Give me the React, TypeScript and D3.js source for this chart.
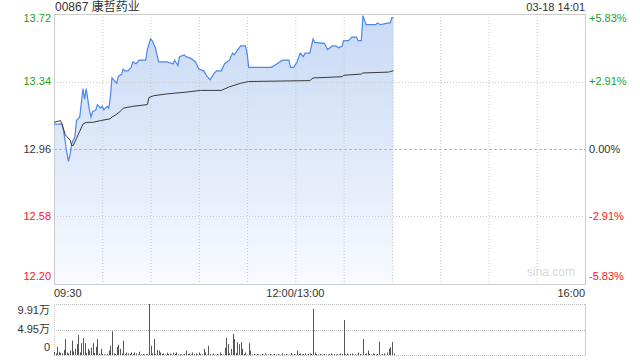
import React from "react";
import * as d3 from "d3";

// ---- Data ----
const title = "00867 康哲药业";
const stamp = "03-18 14:01";
const prevClose = 12.96;
const priceTicks = [13.72, 13.34, 12.96, 12.58, 12.2];
const pctTicks = ["+5.83%", "+2.91%", "0.00%", "-2.91%", "-5.83%"];
const timeLabels = ["09:30", "12:00/13:00", "16:00"];
const volTickLabels = ["9.91万", "4.95万", "0"];
const volTicks = [99100, 49500, 0];

// minutes since 09:30 (trading minutes, lunch removed)
const priceMinutes = [0, 5, 6, 8, 9, 10, 11, 13, 14, 16, 18, 19, 20, 22, 23, 24, 26, 27, 29, 30, 31, 33, 34, 35, 36, 39, 40, 42, 43, 44, 46, 48, 49, 51, 53, 57, 58, 60, 61, 63, 64, 65, 70, 74, 75, 77, 78, 81, 82, 85, 88, 90, 93, 95, 97, 99, 101, 104, 106, 109, 111, 112, 116, 119, 120, 121, 125, 135, 137, 142, 146, 147, 149, 151, 153, 155, 156, 159, 161, 162, 168, 170, 173, 175, 177, 179, 180, 183, 185, 188, 189, 191, 192, 194, 200, 201, 203, 208, 209, 210, 211];
const priceValues = [13.1, 13.1, 13.06, 12.94, 12.89, 12.93, 12.99, 13.03, 13.12, 13.14, 13.3, 13.24, 13.3, 13.18, 13.14, 13.17, 13.18, 13.21, 13.19, 13.2, 13.18, 13.2, 13.19, 13.25, 13.36, 13.33, 13.37, 13.38, 13.41, 13.4, 13.4, 13.42, 13.45, 13.44, 13.46, 13.46, 13.52, 13.58, 13.57, 13.53, 13.49, 13.45, 13.45, 13.44, 13.46, 13.43, 13.48, 13.49, 13.48, 13.47, 13.45, 13.41, 13.4, 13.37, 13.35, 13.38, 13.4, 13.4, 13.44, 13.46, 13.5, 13.49, 13.54, 13.54, 13.5, 13.42, 13.42, 13.42, 13.43, 13.46, 13.46, 13.42, 13.42, 13.45, 13.5, 13.48, 13.5, 13.5, 13.58, 13.56, 13.555, 13.52, 13.54, 13.54, 13.53, 13.54, 13.57, 13.57, 13.59, 13.59, 13.57, 13.57, 13.71, 13.66, 13.66, 13.67, 13.66, 13.67, 13.67, 13.7, 13.7];

const avgMinutes = [0, 4, 5, 7, 10, 11, 12, 14, 16, 18, 20, 24, 29, 35, 36, 38, 41, 43, 49, 58, 59, 62, 70, 82, 91, 104, 109, 116, 121, 159, 161, 179, 180, 191, 192, 208, 211];
const avgValues = [13.11, 13.12, 13.1, 13.04, 13.01, 12.98, 12.98, 13.02, 13.06, 13.1, 13.11, 13.11, 13.12, 13.13, 13.14, 13.15, 13.17, 13.19, 13.2, 13.21, 13.25, 13.26, 13.27, 13.28, 13.29, 13.29, 13.31, 13.33, 13.34, 13.345, 13.36, 13.367, 13.375, 13.382, 13.388, 13.393, 13.401];

// per-minute volume (thousand shares), minute 0 .. 211
const volumesK = [
  6, 3, 16, 6.5, 4, 3, 10, 31, 5, 3,
  8.5, 28, 7, 12, 21, 39, 5, 23, 33, 23,
  4, 12, 8.5, 14, 23, 4, 16, 31, 3, 12,
  2, 1, 1, 2, 8.5, 18, 46, 3, 2, 16,
  20, 12, 3, 28, 2, 5, 3, 2, 5, 2,
  5, 3, 1, 6.5, 1, 2, 1, 1, 2, 99.1,
  18, 3, 31, 2, 10, 8.5, 5, 2, 3, 1,
  4.5, 2, 3, 1, 4.5, 2, 5, 1, 2, 1,
  1, 2, 8.5, 2, 3, 1, 5, 2, 3, 1,
  5, 2, 1, 12, 5, 1, 18, 2, 1, 3,
  1, 2, 1, 5, 2, 1, 14, 33, 21, 3,
  12, 41, 31, 4, 25, 21, 25, 12, 2, 5,
  1, 23, 8.5, 1, 2, 1, 2, 1, 1, 2,
  1, 3, 1, 1, 2, 1, 1, 2, 1, 2,
  1, 1, 3, 1, 2, 1, 1, 4, 1, 2,
  1, 8.5, 2, 3, 1, 2, 3, 1, 2, 3,
  2, 90, 5, 2, 1, 2, 1, 1, 2, 1,
  1, 2, 3, 1, 2, 1, 2, 1, 3, 2,
  68, 2, 3, 1, 2, 3, 1, 2, 1, 5,
  2, 1, 31, 2, 3, 8.5, 2, 1, 3, 2,
  1, 2, 26, 1, 2, 3, 1, 5, 12, 15,
  25, 3,
];

const GREEN = "#1f9f1f";
const RED = "#ee2222";
const DARK = "#333333";
const FONT = "'Liberation Sans', Arial, 'Noto Sans CJK SC', sans-serif";

export default function App() {
  const W = 640;
  const H = 360;
  const left = 54;
  const right = 585;
  const top = 14;
  const bottom = 284;
  const vTop = 304;
  const vBottom = 355;

  const x = d3.scaleLinear().domain([0, 330]).range([left, right]);
  const y = d3.scaleLinear().domain([12.2, 13.72]).range([bottom, top]);
  const yv = d3.scaleLinear().domain([0, 99100]).range([vBottom, vTop]);

  const pricePts = priceMinutes.map((m, i) => [m, priceValues[i]] as [number, number]);
  const avgPts = avgMinutes.map((m, i) => [m, avgValues[i]] as [number, number]);

  const line = d3
    .line<[number, number]>()
    .x((d) => x(d[0]))
    .y((d) => y(d[1]));
  const area = d3
    .area<[number, number]>()
    .x((d) => x(d[0]))
    .y0(bottom)
    .y1((d) => y(d[1]));

  const gridMinutes = d3.range(30, 330, 30);
  const tickColor = (v: number) => (v > prevClose ? GREEN : v < prevClose ? RED : DARK);
  const tickY = (v: number, i: number) =>
    i === 0 ? y(v) + 5 : i === priceTicks.length - 1 ? y(v) - 7 : y(v) + 1;

  return (
    <svg
      width={W}
      height={H}
      style={{ position: "absolute", left: 0, top: 0, background: "#fff" }}
      fontFamily={FONT}
    >
      <defs>
        <linearGradient id="fillGrad" gradientUnits="userSpaceOnUse" x1="0" y1={top} x2="0" y2={bottom}>
          <stop offset="0" stopColor="#c8daf6" />
          <stop offset="0.5" stopColor="#dfe9fa" />
          <stop offset="1" stopColor="#f8fafe" />
        </linearGradient>
      </defs>

      {/* title */}
      <text x={55} y={11} fontSize={12} fill={DARK}>
        {title}
      </text>
      <text x={right} y={11} fontSize={11} fill={DARK} textAnchor="end">
        {stamp}
      </text>

      {/* area + lines */}
      <path d={area(pricePts) || ""} fill="url(#fillGrad)" />

      {/* grid */}
      {gridMinutes.map((m) => (
        <line key={m} x1={x(m) + 0.5} x2={x(m) + 0.5} y1={top} y2={bottom} stroke="#c8c8c8" strokeDasharray="1,2" />
      ))}
      {priceTicks.slice(1, -1).map((v) => (
        <line
          key={v}
          x1={left}
          x2={right}
          y1={Math.round(y(v)) + 0.5}
          y2={Math.round(y(v)) + 0.5}
          stroke={v === prevClose ? "#b8b8b8" : "#c8c8c8"}
          strokeDasharray={v === prevClose ? "3,2" : "1,2"}
        />
      ))}
      <rect x={left + 0.5} y={top + 0.5} width={right - left} height={bottom - top} fill="none" stroke="#cccccc" />

      <path d={line(pricePts) || ""} fill="none" stroke="#4d87ea" strokeWidth={1.2} />
      <path d={line(avgPts) || ""} fill="none" stroke="#3a3a3a" strokeWidth={1} />

      <text x={575} y={276} fontSize={12} fill="#d8d8d8" textAnchor="end">
        sina.com
      </text>

      {/* price axis labels */}
      {priceTicks.map((v, i) => (
        <text key={v} x={51} y={tickY(v, i)} fontSize={11} fill={tickColor(v)} textAnchor="end" dominantBaseline="middle">
          {v.toFixed(2)}
        </text>
      ))}
      {priceTicks.map((v, i) => (
        <text key={"p" + v} x={589} y={tickY(v, i)} fontSize={11} fill={tickColor(v)} dominantBaseline="middle">
          {pctTicks[i]}
        </text>
      ))}

      {/* time labels */}
      <text x={left} y={297} fontSize={11} fill={DARK}>
        {timeLabels[0]}
      </text>
      <text x={x(150)} y={297} fontSize={11} fill={DARK} textAnchor="middle">
        {timeLabels[1]}
      </text>
      <text x={right} y={297} fontSize={11} fill={DARK} textAnchor="end">
        {timeLabels[2]}
      </text>

      {/* volume panel */}
      {volTicks.map((v) => (
        <line
          key={"vg" + v}
          x1={left}
          x2={right}
          y1={Math.round(yv(v)) + 0.5}
          y2={Math.round(yv(v)) + 0.5}
          stroke="#bdbdbd"
          strokeDasharray="1,1"
        />
      ))}
      <line x1={left + 0.5} x2={left + 0.5} y1={vTop} y2={vBottom} stroke="#cfcfcf" strokeDasharray="1,1" />
      <line x1={right + 0.5} x2={right + 0.5} y1={vTop} y2={vBottom} stroke="#cccccc" />
      {volumesK.map((v, i) => (
        <line
          key={"v" + i}
          x1={Math.round(x(i)) + 0.5}
          x2={Math.round(x(i)) + 0.5}
          y1={yv(0)}
          y2={yv(v * 1000)}
          stroke="#555555"
          strokeWidth={1}
        />
      ))}
      {volTickLabels.map((t, i) => (
        <text
          key={t}
          x={50}
          y={i === 0 ? 311 : i === 1 ? 330 : 348}
          fontSize={11}
          fill={DARK}
          textAnchor="end"
          dominantBaseline="middle"
        >
          {t}
        </text>
      ))}
    </svg>
  );
}
